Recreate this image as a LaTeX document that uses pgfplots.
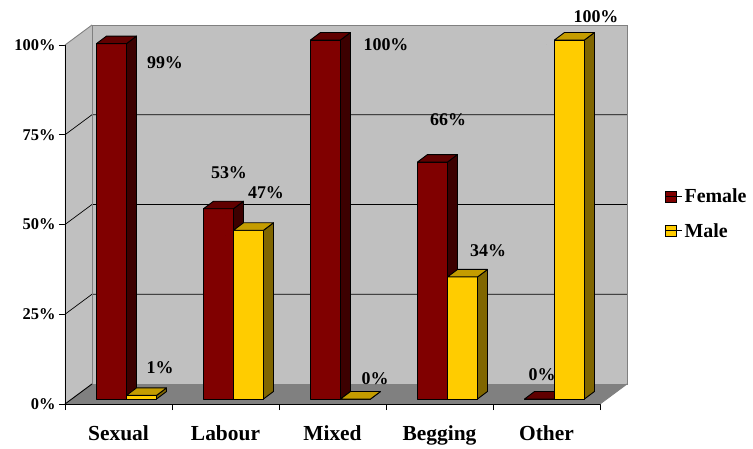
\documentclass[border=0pt]{standalone}
\usepackage{fontspec}
\setmainfont{Liberation Serif}
\usepackage{pgfplots}
\usepackage{pgfplotstable}
\pgfplotsset{compat=1.18}

\definecolor{femF}{HTML}{800000}
\definecolor{femS}{HTML}{3C0000}
\definecolor{femT}{HTML}{600000}
\definecolor{malF}{HTML}{FFCC00}
\definecolor{malS}{HTML}{806600}
\definecolor{malT}{HTML}{C49C00}
\definecolor{wallc}{HTML}{C0C0C0}
\definecolor{floorc}{HTML}{808080}
\definecolor{edgec}{HTML}{808080}

\newcommand\tickfont{\fontsize{16.5}{19}\selectfont\bfseries}
\newcommand\catfont{\fontsize{21.5}{24}\selectfont\bfseries}
\newcommand\labfont{\fontsize{18}{21}\selectfont\bfseries}
\newcommand\legfont{\fontsize{20}{23}\selectfont\bfseries}

% category, Female %, Male %, label offsets (bp) for Female and Male
\pgfplotstableread{
x female male fdx  fdy   mdx  mdy
0 99     1    46.5 -14.4 41.5 32.4
1 53     47   3.5  40.7  40.5 42.3
2 100    0    53.5 0     42.5 25
3 66     34   8.5  47    48.5 31
4 0      100  -4.5 29    49.5 28
}\data

\pgfplotsset{
  bar3d/.style n args={4}{%
    only marks, mark=*, mark size=0pt, mark options={draw=none,fill=none},
    scatter, forget plot, point meta=explicit,
    scatter/@pre marker code/.code={%
      \pgfmathsetmacro\hh{\pgfplotspointmetatransformed*0.359}%
      \filldraw[fill=#2, draw=black, line width=0.9bp, line join=round]
        ({(#1+8)*1bp},{(5-\hh)*1bp}) rectangle ({(#1+38)*1bp},5bp);
      \filldraw[fill=#3, draw=black, line width=0.9bp, line join=round]
        ({(#1+38)*1bp},{(5-\hh)*1bp}) -- ({(#1+48)*1bp},{(12.5-\hh)*1bp})
        -- ({(#1+48)*1bp},12.5bp) -- ({(#1+38)*1bp},5bp) -- cycle;
      \filldraw[fill=#4, draw=black, line width=0.9bp, line join=round]
        ({(#1+8)*1bp},5bp) -- ({(#1+38)*1bp},5bp) -- ({(#1+48)*1bp},12.5bp)
        -- ({(#1+18)*1bp},12.5bp) -- cycle;
    },
    scatter/@post marker code/.code={},
  },
  lab3d/.style={%
    only marks, mark=*, mark size=0pt, mark options={draw=none,fill=none},
    forget plot, point meta=explicit symbolic,
    nodes near coords={\pgfplotspointmeta\%},
    every node near coord/.append style={font=\labfont, inner sep=0pt, anchor=center, text=black},
  },
}

\begin{document}
\begin{tikzpicture}
\begin{axis}[
  x=107bp, y=3.59bp,
  xmin=-0.5, xmax=4.5, ymin=0, ymax=100,
  point meta min=0, point meta max=100,
  clip=false,
  axis line style={draw=none},
  tick pos=left,
  tick align=outside,
  major tick length=6bp,
  tick style={black, line width=0.9bp},
  xtick={-0.5,0.5,1.5,2.5,3.5,4.5},
  xticklabels={Sexual,Labour,Mixed,Begging,Other,{}},
  xticklabel style={xshift=53.5bp, font=\catfont, anchor=base, yshift=-30bp},
  ytick={0,25,50,75,100},
  yticklabels={0\%,25\%,50\%,75\%,100\%},
  yticklabel style={font=\tickfont},
  legend style={at={(1.115,0.53)}, anchor=west, draw=none, fill=none,
    font=\legfont, row sep=15bp},
  legend cell align=left,
  legend image code/.code={\draw[#1] (0bp,-5.5bp) rectangle (11bp,5.5bp); \path (0bp,0bp) -- (17bp,0bp);},
]
% walls and floor
\fill[wallc] (axis cs:-0.5,0) -- (axis cs:-0.5,100)
  -- ([xshift=27bp,yshift=20bp]axis cs:-0.5,100)
  -- ([xshift=27bp,yshift=20bp]axis cs:-0.5,0) -- cycle;
\fill[wallc] ([xshift=27bp,yshift=20bp]axis cs:-0.5,0) rectangle ([xshift=27bp,yshift=20bp]axis cs:4.5,100);
\fill[floorc] (axis cs:-0.5,0) -- (axis cs:4.5,0)
  -- ([xshift=27bp,yshift=20bp]axis cs:4.5,0)
  -- ([xshift=27bp,yshift=20bp]axis cs:-0.5,0) -- cycle;
\pgfplotsinvokeforeach{25,50,75}{
  \draw[black, line width=0.7bp] (axis cs:-0.5,#1) -- ([xshift=27bp,yshift=20bp]axis cs:-0.5,#1)
    -- ([xshift=27bp,yshift=20bp]axis cs:4.5,#1);
}
\draw[edgec, line width=0.9bp] ([xshift=27bp,yshift=20bp]axis cs:-0.5,0) rectangle ([xshift=27bp,yshift=20bp]axis cs:4.5,100);
\draw[edgec, line width=0.9bp] (axis cs:-0.5,100) -- ([xshift=27bp,yshift=20bp]axis cs:-0.5,100);
\draw[edgec, line width=0.9bp] (axis cs:4.5,0) -- ([xshift=27bp,yshift=20bp]axis cs:4.5,0);
\draw[black, line width=0.9bp] (axis cs:-0.5,0) -- ([xshift=27bp,yshift=20bp]axis cs:-0.5,0);
\draw[black, line width=0.9bp] (axis cs:-0.5,100) -- (axis cs:-0.5,0) -- (axis cs:4.5,0);
\coordinate (O) at (axis cs:-0.5,0);

% bars
\addplot[bar3d={-30}{femF}{femS}{femT}] table[x=x, y=female, meta=female] {\data};
\addplot[bar3d={0}{malF}{malS}{malT}] table[x=x, y=male, meta=male] {\data};
% data labels
\addplot[lab3d] table[x expr=\thisrow{x}+\thisrow{fdx}/107, y expr=\thisrow{female}+\thisrow{fdy}/3.59, meta=female] {\data};
\addplot[lab3d] table[x expr=\thisrow{x}+\thisrow{mdx}/107, y expr=\thisrow{male}+\thisrow{mdy}/3.59, meta=male] {\data};

\addlegendimage{fill=femF, draw=black, line width=0.9bp}
\addlegendentry{Female}
\addlegendimage{fill=malF, draw=black, line width=0.9bp}
\addlegendentry{Male}
\end{axis}
\path (O) ++(-65bp,-42bp) rectangle ++(753bp,446bp);
\end{tikzpicture}
\end{document}
